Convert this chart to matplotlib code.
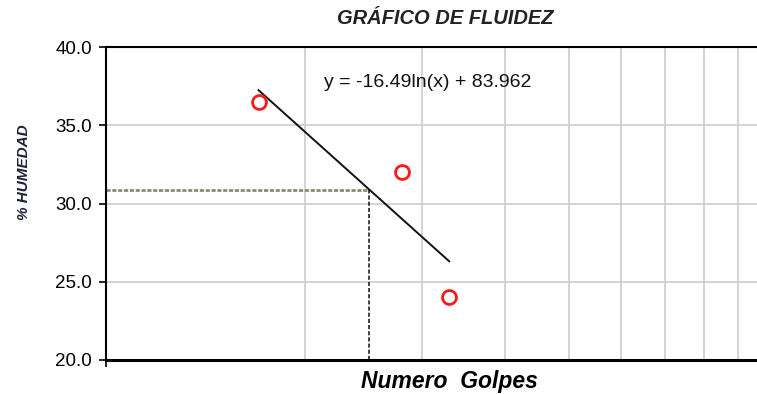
import matplotlib.pyplot as plt
import numpy as np

plt.rcParams["font.family"] = ["Liberation Sans", "DejaVu Sans"]

# -----------------------------
# Data
# -----------------------------
golpes = [17, 28, 33]
humedad = [36.5, 32.0, 24.0]

trend_a = -16.49
trend_b = 83.962
trend_x = [17, 33]

n_ref = 25
y_ticks = [20, 25, 30, 35, 40]
x_grid = [20, 30, 40, 50, 60, 70, 80, 90]

fig = plt.figure(figsize=(7.57, 3.94), dpi=100)
ax = fig.add_axes([0.140, 0.0863, 0.8745, 0.7944])

ax.set_xscale("log")
ax.set_xlim(10, 100)
ax.set_ylim(20, 40)

# grid
for xv in x_grid:
    ax.axvline(xv, color="#cccccc", linewidth=1.2, zorder=0)
for yv in y_ticks[1:-1]:
    ax.axhline(yv, color="#cccccc", linewidth=1.2, zorder=0)

# trend line
xt = np.array(trend_x, dtype=float)
ax.plot(xt, trend_a * np.log(xt) + trend_b, color="#111111", linewidth=1.4, zorder=3)

# reference lines at 25 golpes
y_ref = trend_a * np.log(n_ref) + trend_b
ax.plot([10, n_ref], [y_ref, y_ref], linestyle=(0, (1.5, 0.6)), color="#8c8c70",
        linewidth=2.0, zorder=2)
ax.plot([n_ref, n_ref], [20, y_ref], linestyle=(0, (2.5, 1.2)), color="#222222",
        linewidth=1.2, zorder=2)

# points
ax.plot(golpes, humedad, "o", markersize=10, markerfacecolor="none",
        markeredgecolor="#ff1a1a", markeredgewidth=2.0, zorder=4)

ax.text(0.33, 0.885, "y = -16.49ln(x) + 83.962", transform=ax.transAxes,
        fontsize=14, color="#111111", va="center")

# axes styling
for side in ["left", "bottom", "top"]:
    ax.spines[side].set_color("black")
ax.spines["left"].set_linewidth(1.5)
ax.spines["top"].set_linewidth(1.5)
ax.spines["bottom"].set_linewidth(2.2)
ax.spines["right"].set_visible(False)

ax.set_yticks(y_ticks)
ax.set_yticklabels([f"{v:.1f}" for v in y_ticks], fontsize=13.5)
ax.tick_params(axis="y", direction="out", length=5, width=1.2, pad=5)

ax.xaxis.set_major_locator(plt.FixedLocator([10]))
ax.xaxis.set_minor_locator(plt.NullLocator())
ax.set_xticklabels([""])
ax.tick_params(axis="x", direction="out", length=5, width=1.2)

ax.set_ylabel("% HUMEDAD", fontsize=11, fontweight="bold", fontstyle="italic",
              color="#1a2233")
ax.yaxis.set_label_coords(-0.114, 0.60)

fig.text(0.594, 0.032, "Numero  Golpes", ha="center", va="center", fontsize=16.5,
         fontweight="bold", fontstyle="italic")
fig.text(0.588, 0.953, "GRÁFICO DE FLUIDEZ", ha="center", va="center", fontsize=14.5,
         fontweight="bold", fontstyle="italic", color="#222222")

plt.savefig("out.png", dpi=100)
plt.close()
